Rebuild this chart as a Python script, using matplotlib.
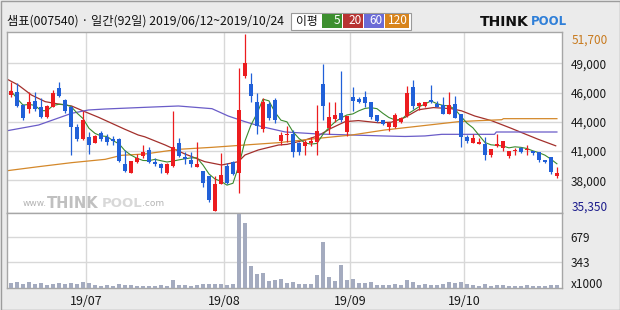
import matplotlib
matplotlib.use("Agg")
import matplotlib.pyplot as plt
import numpy as np
import pandas as pd
from matplotlib.patches import Rectangle

plt.rcParams['font.family'] = ['Noto Sans CJK KR', 'DejaVu Sans']

# 샘표(007540) 일봉, 2019/06/12 ~ 2019/10/24 (92 거래일)
opens = [46064, 46372, 45140, 44770, 45510, 44924, 44062, 44986, 46680, 45602,
         44924, 43138, 42030, 42214, 41660, 42522, 42152, 41998, 41968, 39688,
         38888, 39874, 40428, 41000, 39904, 39688, 38826, 39534, 41598, 40366,
         40090, 39442, 39060, 38580, 35376, 37840, 39480, 39874, 38826, 47850,
         47110, 45420, 42922, 45232, 45600, 41844, 42370, 42460, 41630, 41352,
         41660, 41752, 47080, 43000, 43846, 44400, 42676, 45880, 45694, 45880,
         45448, 44216, 43754, 43138, 43138, 43560, 44140, 46800, 45020, 45048,
         45602, 45232, 45140, 44290, 45232, 44308, 42214, 41630, 41550, 41520,
         40490, 41370, 41136, 40428, 40920, 41136, 40982, 40920, 40798, 40088,
         40366, 38610]
highs = [47296, 47142, 45232, 46372, 46372, 45756, 45140, 46526, 47296, 45664,
         45048, 43384, 44586, 42676, 42340, 42768, 42460, 42276, 42060, 40982,
         39996, 40612, 41444, 41290, 40200, 39800, 39750, 44586, 42060, 40830,
         40830, 41700, 39060, 38580, 38580, 40674, 39750, 39996, 48528, 51700,
         48066, 46218, 45756, 45400, 45756, 42676, 43230, 42830, 41720, 41900,
         42200, 45140, 48928, 45448, 45448, 48282, 44154, 46834, 45910, 46400,
         45448, 44216, 43754, 43600, 44370, 44062, 46896, 47450, 45448, 45448,
         46988, 45500, 45900, 46372, 46000, 44308, 42376, 42500, 42050, 42200,
         41074, 42460, 41814, 40920, 41136, 41290, 41450, 40920, 40798, 40088,
         40366, 39442]
lows = [45910, 44924, 43754, 44432, 44616, 43908, 43908, 44924, 45848, 44370,
        40520, 41844, 41914, 40612, 41600, 41844, 41444, 41444, 39904, 38980,
        38850, 39812, 40212, 39810, 39500, 38826, 38764, 39442, 40366, 39720,
        39440, 39442, 37600, 36200, 35350, 37840, 37810, 38670, 36978, 47666,
        45448, 42450, 42614, 43800, 43446, 41444, 41752, 40366, 40520, 40520,
        41350, 40550, 43754, 42490, 43600, 43600, 42300, 44570, 45300, 44986,
        43810, 43600, 43300, 42768, 43046, 43450, 44062, 44780, 44680, 44986,
        45300, 44920, 44278, 44278, 43908, 41228, 41600, 41600, 41500, 40100,
        40300, 41300, 40920, 40270, 40520, 40740, 40520, 40490, 39900, 39750,
        38764, 38364]
closes = [46434, 45048, 43908, 45386, 44740, 44000, 45048, 46280, 45972, 44616,
          43138, 41968, 43754, 41444, 42276, 41968, 41722, 41814, 39996, 39072,
          39934, 40274, 40798, 39904, 39688, 39288, 39688, 41228, 40460, 40180,
          39720, 39688, 37930, 36330, 37840, 38672, 37902, 38800, 44678, 49052,
          46002, 43230, 45420, 43908, 43790, 42340, 42460, 40828, 40828, 41690,
          41844, 42750, 45017, 44000, 44216, 43720, 44140, 45520, 45448, 45294,
          44062, 43680, 43354, 43520, 44216, 43970, 46280, 45080, 45340, 45448,
          45448, 44986, 44290, 45140, 43908, 42152, 41844, 42122, 41752, 40520,
          41074, 41580, 41814, 40920, 40990, 40828, 41044, 40736, 40058, 39872,
          38980, 38888]
volumes = [58, 72, 49, 72, 49, 58, 40, 49, 58, 49,
           58, 49, 72, 63, 36, 27, 36, 27, 45, 36,
           36, 27, 27, 27, 27, 36, 27, 103, 40, 36,
           27, 36, 49, 49, 49, 49, 36, 49, 992, 871,
           292, 184, 198, 94, 103, 117, 58, 72, 49, 49,
           49, 171, 620, 148, 90, 305, 103, 117, 67, 67,
           81, 36, 36, 36, 49, 36, 99, 72, 36, 49,
           36, 36, 49, 72, 58, 72, 49, 40, 27, 49,
           27, 40, 40, 27, 27, 27, 36, 27, 27, 27,
           36, 36]  # x1000

# 이동평균선 (20/60/120일은 그림에서 읽은 값)
ma20_x = [-0.6, 1.2, 3.4, 5.7, 7.9, 10.1, 12.3, 14.6, 16.8, 19.0,
          21.2, 22.3, 25.7, 29.0, 32.3, 35.1, 37.9, 39.0, 41.2, 44.6,
          46.0, 49.0, 51.2, 53.4, 55.7, 57.9, 61.2, 63.4, 65.7, 67.9,
          70.4, 73.4, 75.1, 77.3, 80.1, 83.4, 85.7, 87.9, 90.8]
ma20_v = [47512, 46988, 46064, 45448, 45232, 45048, 44524, 44000, 43446, 42892,
          42368, 42200, 41444, 40612, 39904, 39596, 39904, 40520, 40982, 41444,
          41500, 41900, 42300, 43000, 43600, 43700, 43500, 43550, 44000, 44700,
          44900, 44800, 44600, 44124, 43692, 42984, 42460, 41968, 41370]
ma60_x = [-0.6, 4.6, 10.1, 12.9, 15.7, 22.3, 27.9, 33.5, 36.2, 39.0,
          41.8, 45.7, 51.2, 56.8, 62.3, 65.7, 69.0, 71.8, 80.6, 80.9, 91.0]
ma60_v = [42768, 43292, 44370, 44678, 44770, 44924, 45048, 44800, 44124, 43600,
          43138, 42650, 42460, 42368, 42276, 42230, 42280, 42430, 42430, 42645, 42645]
ma120_x = [-0.6, 4.6, 10.1, 15.7, 18.4, 22.3, 27.9, 33.5, 39.0, 44.6,
           51.2, 56.8, 62.3, 69.0, 74.6, 77.9, 81.8, 82.1, 91.0]
ma120_v = [39072, 39442, 39812, 40120, 40490, 40612, 41044, 41228, 41444, 41660,
           42060, 42368, 42830, 43250, 43600, 43692, 43780, 43877, 43877]

month_first = [13, 36, 57, 76]
month_labels = ['19/07', '19/08', '19/09', '19/10']
price_grid = [48990, 46280, 43590, 40890, 38180]
vol_grid = [343, 679]
ma_names = ['5', '20', '60', '120']
title = '샘표(007540) · 일간(92일) 2019/06/12~2019/10/24'

RED, BLUE = '#ec1c1f', '#2160d8'
ma_colors = ['#3c8a2e', '#a3302c', '#6a5cc8', '#d4882a']
box_colors = ['#3d8f2f', '#b83332', '#6b6bd6', '#d8841c']
GRID = '#d8d8d8'
EDGE = '#a6a6a6'
BG = '#ebebeb'

W, H = 620, 310
def frac(x0, y0, x1, y1):
    return [x0 / W, 1 - y1 / H, (x1 - x0) / W, (y1 - y0) / H]

fig = plt.figure(figsize=(6.2, 3.1), dpi=100, facecolor=BG)
ax = fig.add_axes(frac(7.3, 32, 562.3, 212.5))
axv = fig.add_axes(frac(7.3, 212.5, 562.3, 287.7), sharex=ax)

o = np.array(opens); c = np.array(closes)
hi = np.array(highs); lo = np.array(lows)
idx = np.arange(len(o))
cols = np.where(c >= o, RED, BLUE)

# 이동평균선
ma5 = pd.Series(c).rolling(5, min_periods=1).mean()
ax.plot(idx, ma5, color=ma_colors[0], lw=0.8, zorder=3)
ax.plot(ma20_x, ma20_v, color=ma_colors[1], lw=0.9, zorder=2)
ax.plot(ma60_x, ma60_v, color=ma_colors[2], lw=0.9, zorder=2)
ax.plot(ma120_x, ma120_v, color=ma_colors[3], lw=0.9, zorder=2)

# 캔들
ax.vlines(idx, lo, hi, colors=cols, lw=0.9, zorder=4)
body = np.maximum(np.abs(c - o), 60)
ax.bar(idx, body, bottom=np.minimum(o, c), width=0.7, color=cols, lw=0, zorder=5)

ax.set_xlim(-0.62, 91.9)
ax.set_ylim(35207, 51885)
ax.set_facecolor('white')
ax.set_yticks(price_grid)
ax.set_yticklabels([f"{int(round(v, -3)):,}" for v in price_grid])
ax.yaxis.tick_right()
ax.tick_params(axis='y', length=0, pad=6, labelsize=8.5, labelcolor='#1a1a1a')
ax.tick_params(axis='x', length=0, labelbottom=False)
ax.set_xticks([m - 0.5 for m in month_first])
ax.grid(True, color=GRID, lw=1)
ax.set_axisbelow(True)

ytr = ax.get_yaxis_transform()
ax.text(1.016, max(highs), f"{max(highs):,}", transform=ytr, va='top',
        fontsize=8.5, color='#c87a1e')
ax.text(1.016, min(lows), f"{min(lows):,}", transform=ytr, va='baseline',
        fontsize=8.5, color='#1c1c8c')

# 워터마크
ax.text(0.028, 0.05, 'www.', transform=ax.transAxes, fontsize=6.5, color='#b4b4b4',
        family='DejaVu Sans', va='center')
ax.text(0.072, 0.05, 'THINK', transform=ax.transAxes, fontsize=10.5, color='#c0c0c0',
        family='DejaVu Sans', weight='bold', va='center')
ax.text(0.171, 0.05, 'POOL', transform=ax.transAxes, fontsize=9.5, color='#d8d8d8',
        family='DejaVu Sans', weight='bold', va='center')
ax.text(0.242, 0.05, '.com', transform=ax.transAxes, fontsize=6.5, color='#b4b4b4',
        family='DejaVu Sans', va='center')

# 거래량
axv.bar(idx, volumes, width=0.75, color='#a4abbf', lw=0, zorder=3)
axv.set_ylim(0, 1013)
axv.set_facecolor('white')
axv.set_yticks(vol_grid)
axv.set_yticklabels([str(v) for v in vol_grid])
axv.yaxis.tick_right()
axv.tick_params(axis='y', length=0, pad=6, labelsize=8.5, labelcolor='#1a1a1a')
axv.set_xticks([m - 0.5 for m in month_first])
axv.set_xticklabels(month_labels)
axv.tick_params(axis='x', length=0, pad=5, labelsize=9, labelcolor='#1a1a1a')
axv.grid(True, color=GRID, lw=1)
axv.set_axisbelow(True)
axv.text(1.016, 0.04, 'x1000', transform=axv.transAxes, va='center',
         fontsize=8.5, color='#1a1a1a')

for a in (ax, axv):
    for s in a.spines.values():
        s.set_color(EDGE)
        s.set_linewidth(1)

# 제목과 범례
fig.text(7 / W, 1 - 21 / H, title, fontsize=8.8, va='center', color='#111111')
fig.add_artist(Rectangle((291 / W, 1 - 29.5 / H), 120 / W, 17 / H,
                         transform=fig.transFigure, facecolor='white',
                         edgecolor='#9a9a9a', lw=0.8))
fig.text(296 / W, 1 - 21 / H, '이평', fontsize=8.5, va='center', color='#111111')
box_x = [322, 343, 364, 385]
box_w = [20, 20, 20, 24]
for name, col, bx, bw in zip(ma_names, box_colors, box_x, box_w):
    fig.add_artist(Rectangle((bx / W, 1 - 28 / H), bw / W, 14 / H,
                             transform=fig.transFigure, facecolor=col, lw=0))
    fig.text((bx + bw - 1.5) / W, 1 - 21 / H, name, fontsize=8.5, va='center',
             ha='right', color='white')

# 로고
fig.text(480 / W, 1 - 21.5 / H, 'THINK', fontsize=10, weight='heavy', va='center',
         family='DejaVu Sans', color='#111111')
fig.text(531 / W, 1 - 21.5 / H, 'POOL', fontsize=8.5, weight='heavy', va='center',
         family='DejaVu Sans', color='#2f7fd8')

fig.add_artist(Rectangle((0.5 / W, 0.5 / H), 619 / W, 309 / H,
                         transform=fig.transFigure, fill=False,
                         edgecolor='#9c9c9c', lw=1))

fig.savefig('out.png', dpi=100, facecolor=BG)
